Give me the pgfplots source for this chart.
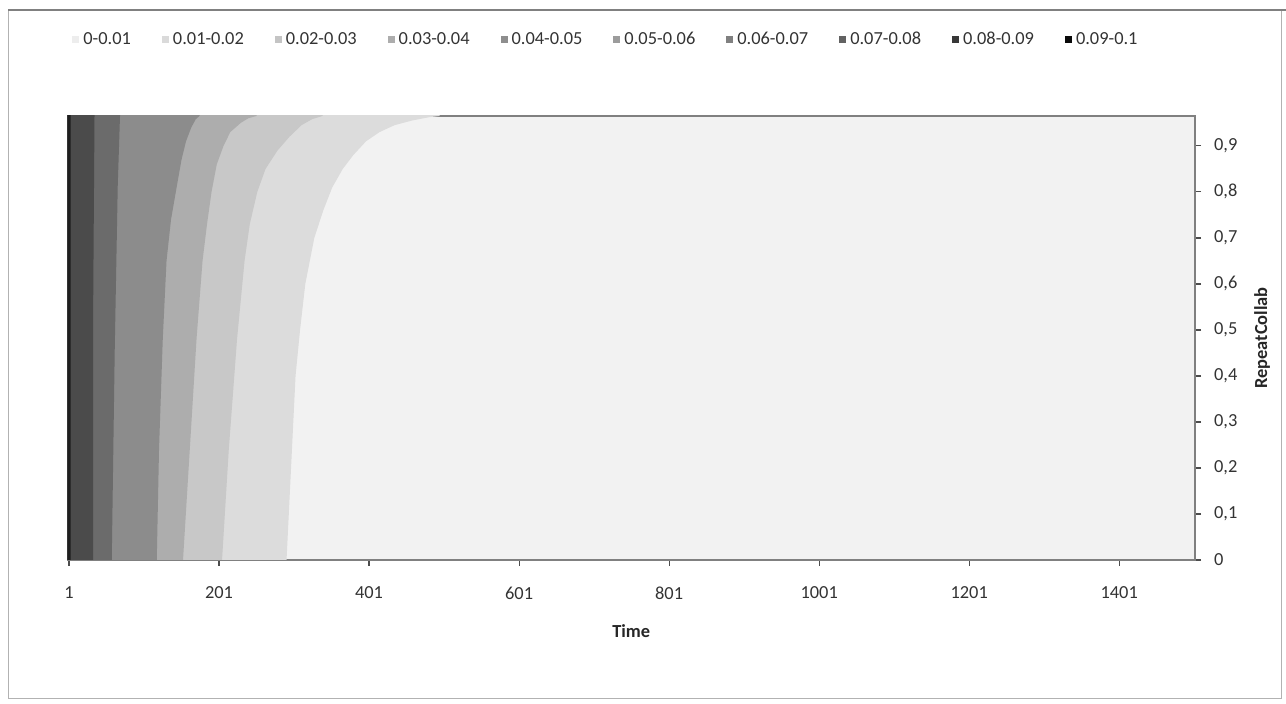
\documentclass[border=0pt]{standalone}
\usepackage{fontspec}
\setmainfont{Carlito}
\usepackage{pgfplots}
\pgfplotsset{compat=1.18}
\newcommand\cf{\fontsize{9.2}{11}\selectfont}
\definecolor{b0}{HTML}{F2F2F2}
\definecolor{b1}{HTML}{DCDCDC}
\definecolor{b2}{HTML}{C8C8C8}
\definecolor{b3}{HTML}{ADADAD}
\definecolor{b4}{HTML}{8C8C8C}
\definecolor{b5}{HTML}{6B6B6B}
\definecolor{b6}{HTML}{4B4B4B}
\definecolor{b7}{HTML}{1E1E1E}
\definecolor{l0}{HTML}{EDEDED}
\definecolor{l1}{HTML}{DADADA}
\definecolor{l2}{HTML}{C4C4C4}
\definecolor{l3}{HTML}{ADADAD}
\definecolor{l4}{HTML}{8E8E8E}
\definecolor{l5}{HTML}{9C9C9C}
\definecolor{l6}{HTML}{808080}
\definecolor{l7}{HTML}{626262}
\definecolor{l8}{HTML}{383838}
\definecolor{l9}{HTML}{0A0A0A}
\begin{document}
\begin{tikzpicture}
\begin{axis}[
  at={(33.75pt,72pt)}, anchor=south west,
  scale only axis, width=563.75pt, height=222pt,
  xmin=-1, xmax=1502, ymin=0, ymax=0.965,
  axis background/.style={fill=b0},
  axis line style={draw=black!50, line width=0.8pt},
  xtick={1,201,401,601,801,1001,1201,1401},
  xticklabels={1,201,401,601,801,1001,1201,1401},
  ytick={0,0.1,0.2,0.3,0.4,0.5,0.6,0.7,0.8,0.9},
  yticklabels={0,{0,1},{0,2},{0,3},{0,4},{0,5},{0,6},{0,7},{0,8},{0,9}},
  xtick pos=bottom, ytick pos=right, yticklabel pos=right,
  tick align=outside, major tick length=3pt,
  tick style={draw=black!70, line width=0.6pt},
  ticklabel style={font=\cf, text=black!80},
  xticklabel style={yshift=-7pt},
  yticklabel style={xshift=3pt},
  every axis x label/.style={at={(axis description cs:0.5,0)}, yshift=-35.5pt, anchor=center, font=\cf\bfseries, text=black!85},
  every axis y label/.style={at={(axis description cs:1,0.5)}, xshift=33.5pt, rotate=90, anchor=center, font=\cf\bfseries, text=black!85},
  xlabel={Time}, ylabel={RepeatCollab},
  legend columns=10,
  legend cell align=left,
  legend image code/.code={\fill[#1, draw=none] (0pt,-1.7pt) rectangle (3.5pt,1.8pt);},
  legend style={at={(axis description cs:0.004,1.171)}, anchor=west, draw=none, fill=none,
    inner sep=0pt, font=\cf, text=black!80,
    nodes={inner xsep=1.5pt, inner ysep=1pt},
    /tikz/every odd column/.append style={column sep=0.5pt},
    /tikz/every even column/.append style={column sep=14pt}},
]
% contour band boundaries (Time vs RepeatCollab), filled from the left
\addplot[fill=b1, draw=none, forget plot] coordinates {(-5,0) (291,0) (297,0.2) (303,0.4) (309,0.5) (316,0.6) (328,0.7) (340,0.76) (352,0.81) (366,0.85) (380,0.88) (397,0.91) (415,0.93) (435,0.945) (458,0.955) (480,0.962) (495,0.965) (495,1) (-5,1)} -- cycle;
\addplot[fill=b2, draw=none, forget plot] coordinates {(-5,0) (205,0) (214,0.24) (225,0.48) (235,0.65) (242,0.73) (252,0.8) (263,0.85) (279,0.89) (295,0.92) (311,0.945) (325,0.958) (339,0.965) (339,1) (-5,1)} -- cycle;
\addplot[fill=b3, draw=none, forget plot] coordinates {(-5,0) (153,0) (162,0.24) (171,0.48) (179,0.65) (185,0.73) (191,0.8) (198,0.86) (207,0.9) (216,0.93) (230,0.95) (240,0.96) (251,0.965) (251,1) (-5,1)} -- cycle;
\addplot[fill=b4, draw=none, forget plot] coordinates {(-5,0) (118,0) (121,0.24) (126,0.48) (131,0.65) (137,0.74) (145,0.815) (151,0.87) (157,0.91) (164,0.94) (170,0.958) (175,0.965) (175,1) (-5,1)} -- cycle;
\addplot[fill=b5, draw=none, forget plot] coordinates {(-5,0) (58,0) (62,0.46) (66,0.815) (69,0.965) (69,1) (-5,1)} -- cycle;
\addplot[fill=b6, draw=none, forget plot] coordinates {(-5,0) (33,0) (33,0.5) (35,0.965) (35,1) (-5,1)} -- cycle;
\addplot[fill=b7, draw=none, forget plot] coordinates {(-5,0) (3,0) (3,0.965) (3,1) (-5,1)} -- cycle;
% legend
\addlegendimage{fill=l0}\addlegendentry{0-0.01}
\addlegendimage{fill=l1}\addlegendentry{0.01-0.02}
\addlegendimage{fill=l2}\addlegendentry{0.02-0.03}
\addlegendimage{fill=l3}\addlegendentry{0.03-0.04}
\addlegendimage{fill=l4}\addlegendentry{0.04-0.05}
\addlegendimage{fill=l5}\addlegendentry{0.05-0.06}
\addlegendimage{fill=l6}\addlegendentry{0.06-0.07}
\addlegendimage{fill=l7}\addlegendentry{0.07-0.08}
\addlegendimage{fill=l8}\addlegendentry{0.08-0.09}
\addlegendimage{fill=l9}\addlegendentry{0.09-0.1}
\end{axis}
\draw[black!30, line width=0.5pt] (4pt,2.5pt) rectangle (640.5pt,347pt);
\draw[black!50, line width=1pt] (4pt,347pt) -- (643pt,347pt);
\pgfresetboundingbox
\path[use as bounding box] (0,0) rectangle (643pt,352pt);
\end{tikzpicture}
\end{document}
